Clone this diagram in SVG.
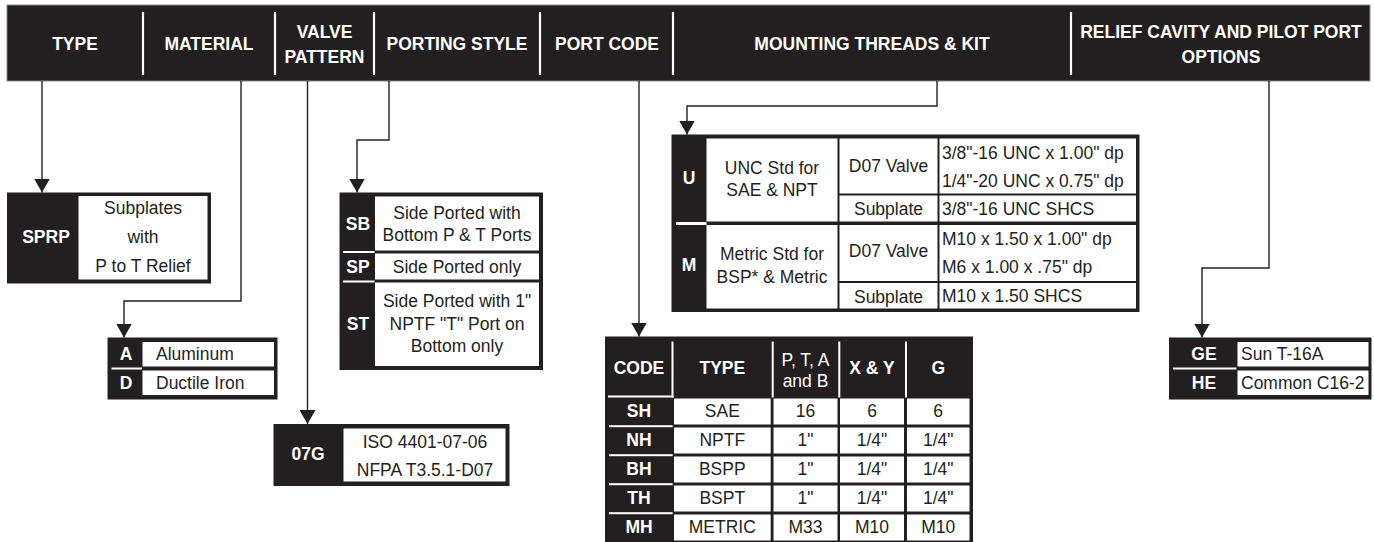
<svg xmlns="http://www.w3.org/2000/svg" width="1374" height="542" viewBox="0 0 1374 542">
<style>
.bk{fill:#231f20}
.wc{fill:#fff}
.t{font-family:"Liberation Sans",Arial,Helvetica,sans-serif;font-size:17.5px;fill:#231f20}
.b{font-weight:bold;fill:#fff}
.w{fill:#fff}
.m{text-anchor:middle}
.div{stroke:#fff;stroke-width:2.2}
.conn{fill:none;stroke:#231f20;stroke-width:1.4}
</style>
<defs>
<marker id="arr" viewBox="0 0 14 16" refX="14" refY="8" markerWidth="14" markerHeight="16" markerUnits="userSpaceOnUse" orient="auto">
<path d="M0,0 L14,8 L0,16 z" fill="#231f20"/>
</marker>
</defs>
<rect width="1374" height="542" fill="#fff"/>

<g id="header">
<rect x="7" y="5" width="1363" height="76" class="bk" stroke="#8a8a8a" stroke-width="1"/>
<line class="div" x1="143" y1="12" x2="143" y2="75"/>
<line class="div" x1="275" y1="12" x2="275" y2="75"/>
<line class="div" x1="374" y1="12" x2="374" y2="75"/>
<line class="div" x1="540" y1="12" x2="540" y2="75"/>
<line class="div" x1="673" y1="12" x2="673" y2="75"/>
<line class="div" x1="1071" y1="12" x2="1071" y2="75"/>
<text class="t b m" x="75" y="50">TYPE</text>
<text class="t b m" x="209" y="50">MATERIAL</text>
<text class="t b m" x="324.5" y="37.5">VALVE</text>
<text class="t b m" x="324.5" y="62.5">PATTERN</text>
<text class="t b m" x="457" y="50">PORTING STYLE</text>
<text class="t b m" x="607" y="50">PORT CODE</text>
<text class="t b m" x="872" y="50">MOUNTING THREADS &amp; KIT</text>
<text class="t b m" x="1221" y="37.5">RELIEF CAVITY AND PILOT PORT</text>
<text class="t b m" x="1221" y="62.5">OPTIONS</text>
</g>

<g id="connectors">
<path class="conn" d="M42,81 V192.5" marker-end="url(#arr)"/>
<path class="conn" d="M241,81 V301 H124 V337.5" marker-end="url(#arr)"/>
<path class="conn" d="M307.5,81 V424" marker-end="url(#arr)"/>
<path class="conn" d="M389,81 V140 H357 V192.5" marker-end="url(#arr)"/>
<path class="conn" d="M639,81 V336.5" marker-end="url(#arr)"/>
<path class="conn" d="M937,81 V106 H687 V134.5" marker-end="url(#arr)"/>
<path class="conn" d="M1269,81 V268 H1202 V337.5" marker-end="url(#arr)"/>
</g>

<g id="type-node">
<rect class="bk" x="7" y="192.5" width="204" height="91"/>
<rect class="wc" x="78.5" y="196" width="129" height="83.5"/>
<text class="t b m" x="46" y="243">SPRP</text>
<text class="t m" x="143" y="214">Subplates</text>
<text class="t m" x="143" y="243">with</text>
<text class="t m" x="143" y="272">P to T Relief</text>
</g>

<g id="material-node">
<rect class="bk" x="107.5" y="337.5" width="170" height="62"/>
<rect class="wc" x="142.5" y="342" width="131.5" height="24.5"/>
<rect class="wc" x="142.5" y="370.5" width="131.5" height="24.5"/>
<rect class="wc" x="111.5" y="367.5" width="30.5" height="2"/>
<text class="t b m" x="126" y="360">A</text>
<text class="t b m" x="126" y="389">D</text>
<text class="t" x="156" y="360">Aluminum</text>
<text class="t" x="156" y="389">Ductile Iron</text>
</g>

<g id="porting-node">
<rect class="bk" x="339.5" y="192.5" width="203.5" height="177.5"/>
<rect class="wc" x="375" y="196.5" width="164" height="54"/>
<rect class="wc" x="375" y="253.5" width="164" height="26"/>
<rect class="wc" x="375" y="282.5" width="164" height="83.5"/>
<rect class="wc" x="343" y="251" width="31.5" height="2"/>
<rect class="wc" x="343" y="280.5" width="31.5" height="2"/>
<text class="t b m" x="358" y="229.5">SB</text>
<text class="t m" x="457" y="218.5">Side Ported with</text>
<text class="t m" x="457" y="240.5">Bottom P &amp; T Ports</text>
<text class="t b m" x="358" y="273">SP</text>
<text class="t m" x="457" y="273">Side Ported only</text>
<text class="t b m" x="358" y="329.5">ST</text>
<text class="t m" x="457" y="307">Side Ported with 1"</text>
<text class="t m" x="457" y="329.5">NPTF "T" Port on</text>
<text class="t m" x="457" y="352">Bottom only</text>
</g>

<g id="valve-node">
<rect class="bk" x="273.5" y="424" width="236" height="62"/>
<rect class="wc" x="343.5" y="428.5" width="162" height="53"/>
<text class="t b m" x="308" y="460">07G</text>
<text class="t m" x="425" y="447.5">ISO 4401-07-06</text>
<text class="t m" x="425" y="476">NFPA T3.5.1-D07</text>
</g>

<g id="mounting-node">
<rect class="bk" x="671.5" y="134.5" width="468" height="177.5"/>
<rect class="wc" x="706.5" y="138.5" width="131" height="83"/>
<rect class="wc" x="706.5" y="225" width="131" height="83.5"/>
<rect class="wc" x="839.5" y="138.5" width="98" height="55"/>
<rect class="wc" x="839.5" y="195.5" width="98" height="26"/>
<rect class="wc" x="839.5" y="225" width="98" height="56"/>
<rect class="wc" x="839.5" y="283" width="98" height="25.5"/>
<rect class="wc" x="939.5" y="138.5" width="196.5" height="55"/>
<rect class="wc" x="939.5" y="195.5" width="196.5" height="26"/>
<rect class="wc" x="939.5" y="225" width="196.5" height="56"/>
<rect class="wc" x="939.5" y="283" width="196.5" height="25.5"/>
<rect class="wc" x="676" y="222" width="30.5" height="3"/>
<text class="t b m" x="689" y="183.5">U</text>
<text class="t b m" x="689" y="271">M</text>
<text class="t m" x="772" y="173.5">UNC Std for</text>
<text class="t m" x="772" y="196">SAE &amp; NPT</text>
<text class="t m" x="772" y="260">Metric Std for</text>
<text class="t m" x="772" y="283">BSP* &amp; Metric</text>
<text class="t m" x="888.5" y="171.5">D07 Valve</text>
<text class="t m" x="888.5" y="215">Subplate</text>
<text class="t m" x="888.5" y="257">D07 Valve</text>
<text class="t m" x="888.5" y="302.5">Subplate</text>
<text class="t" x="942" y="158.5">3/8"-16 UNC x 1.00" dp</text>
<text class="t" x="942" y="187">1/4"-20 UNC x 0.75" dp</text>
<text class="t" x="942" y="215">3/8"-16 UNC SHCS</text>
<text class="t" x="942" y="245">M10 x 1.50 x 1.00" dp</text>
<text class="t" x="942" y="273">M6 x 1.00 x .75" dp</text>
<text class="t" x="942" y="302">M10 x 1.50 SHCS</text>
</g>

<g id="portcode-node">
<rect class="bk" x="605" y="336.5" width="368" height="207"/>
<rect class="wc" x="671.5" y="341.5" width="2" height="56"/>
<rect class="wc" x="608" y="395.5" width="65.5" height="2"/>
<rect class="wc" x="771.7" y="341.5" width="2" height="56"/>
<rect class="wc" x="838.3" y="341.5" width="2" height="56"/>
<rect class="wc" x="905" y="341.5" width="2" height="56"/>
<rect class="wc" x="674" y="398.5" width="96.7" height="26"/>
<rect class="wc" x="773.5" y="398.5" width="64" height="26"/>
<rect class="wc" x="840" y="398.5" width="64" height="26"/>
<rect class="wc" x="907" y="398.5" width="62.5" height="26"/>
<rect class="wc" x="674" y="427.5" width="96.7" height="26"/>
<rect class="wc" x="773.5" y="427.5" width="64" height="26"/>
<rect class="wc" x="840" y="427.5" width="64" height="26"/>
<rect class="wc" x="907" y="427.5" width="62.5" height="26"/>
<rect class="wc" x="674" y="456.5" width="96.7" height="26"/>
<rect class="wc" x="773.5" y="456.5" width="64" height="26"/>
<rect class="wc" x="840" y="456.5" width="64" height="26"/>
<rect class="wc" x="907" y="456.5" width="62.5" height="26"/>
<rect class="wc" x="674" y="485.5" width="96.7" height="26"/>
<rect class="wc" x="773.5" y="485.5" width="64" height="26"/>
<rect class="wc" x="840" y="485.5" width="64" height="26"/>
<rect class="wc" x="907" y="485.5" width="62.5" height="26"/>
<rect class="wc" x="674" y="514.5" width="96.7" height="26"/>
<rect class="wc" x="773.5" y="514.5" width="64" height="26"/>
<rect class="wc" x="840" y="514.5" width="64" height="26"/>
<rect class="wc" x="907" y="514.5" width="62.5" height="26"/>
<rect class="wc" x="609" y="425.2" width="63.7" height="2"/>
<rect class="wc" x="609" y="454.2" width="63.7" height="2"/>
<rect class="wc" x="609" y="483.2" width="63.7" height="2"/>
<rect class="wc" x="609" y="512.2" width="63.7" height="2"/>
<text class="t b m" x="639" y="373.5">CODE</text>
<text class="t b m" x="722.3" y="373.5">TYPE</text>
<text class="t w m" x="805.5" y="366">P, T, A</text>
<text class="t w m" x="805.5" y="386.5">and B</text>
<text class="t b m" x="872" y="373.5">X &amp; Y</text>
<text class="t b m" x="938.2" y="373.5">G</text>
<text class="t b m" x="639" y="417">SH</text>
<text class="t m" x="722.3" y="417">SAE</text>
<text class="t m" x="805.5" y="417">16</text>
<text class="t m" x="872" y="417">6</text>
<text class="t m" x="938.2" y="417">6</text>
<text class="t b m" x="639" y="446">NH</text>
<text class="t m" x="722.3" y="446">NPTF</text>
<text class="t m" x="805.5" y="446">1"</text>
<text class="t m" x="872" y="446">1/4"</text>
<text class="t m" x="938.2" y="446">1/4"</text>
<text class="t b m" x="639" y="475">BH</text>
<text class="t m" x="722.3" y="475">BSPP</text>
<text class="t m" x="805.5" y="475">1"</text>
<text class="t m" x="872" y="475">1/4"</text>
<text class="t m" x="938.2" y="475">1/4"</text>
<text class="t b m" x="639" y="504">TH</text>
<text class="t m" x="722.3" y="504">BSPT</text>
<text class="t m" x="805.5" y="504">1"</text>
<text class="t m" x="872" y="504">1/4"</text>
<text class="t m" x="938.2" y="504">1/4"</text>
<text class="t b m" x="639" y="533">MH</text>
<text class="t m" x="722.3" y="533">METRIC</text>
<text class="t m" x="805.5" y="533">M33</text>
<text class="t m" x="872" y="533">M10</text>
<text class="t m" x="938.2" y="533">M10</text>
</g>

<g id="relief-node">
<rect class="bk" x="1169" y="337.5" width="202.5" height="62"/>
<rect class="wc" x="1237.5" y="342" width="131" height="24.5"/>
<rect class="wc" x="1237.5" y="370.5" width="131" height="24.5"/>
<rect class="wc" x="1173" y="367.5" width="63.5" height="2"/>
<text class="t b m" x="1204" y="359.5">GE</text>
<text class="t b m" x="1204" y="388.5">HE</text>
<text class="t" x="1241" y="359.5">Sun T-16A</text>
<text class="t" x="1241" y="388.5">Common C16-2</text>
</g>
</svg>
